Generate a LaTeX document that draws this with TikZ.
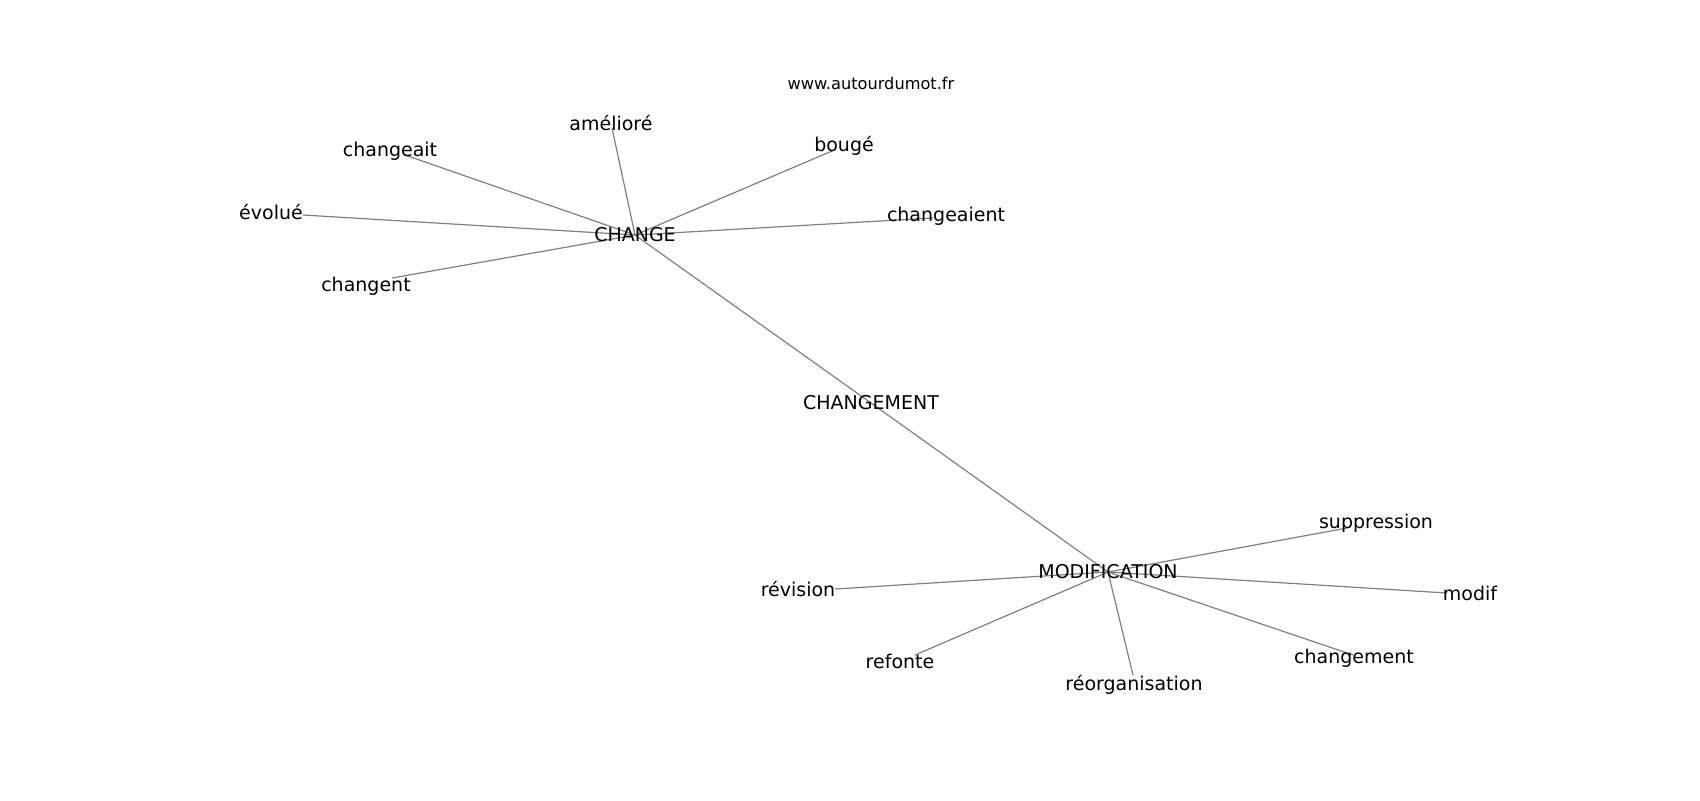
\documentclass[tikz,border=0pt]{standalone}
\usepackage{fontspec}
\setmainfont{DejaVu Sans}
\usetikzlibrary{backgrounds}
\tikzset{
	word/.style={inner sep=0pt, font=\fontsize{9.5}{11}\selectfont},
	hub/.style={word},
	edge/.style={draw=gray, line width=0.6pt},
	% site name on top
	site/.style={inner sep=0pt, font=\fontsize{8.1}{10}\selectfont},
}

\begin{document}
\begin{tikzpicture}[x=0.5pt, y=-0.5pt]
	\useasboundingbox (0,0) rectangle (1700,800);
	
	\node (site) [site] at (871,83) {www.autourdumot.fr};
	
	\node (change) [hub] at (635,235) {CHANGE};
	\node (changement) [hub] at (871,403) {CHANGEMENT};
	\node (modification) [hub] at (1108,572) {MODIFICATION};
	
	% words round CHANGE
	\node (ameliore) [word] at (611,123) {amélioré};
	\node (changeait) [word] at (390,151) {changeait};
	\node (bouge) [word] at (844,146) {bougé};
	\node (evolue) [word] at (271,212) {évolué};
	\node (changeaient) [word] at (946,216) {changeaient};
	\node (changent) [word] at (366,286) {changent};
	
	% words round MODIFICATION
	\node (suppression) [word] at (1376,523) {suppression};
	\node (revision) [word] at (798,589) {révision};
	\node (modif) [word] at (1470,593) {modif};
	\node (refonte) [word] at (900,661) {refonte};
	\node (changementb) [word] at (1354,658) {changement};
	\node (reorg) [word] at (1134,685) {réorganisation};
	
	% where the lines end
	\coordinate (p-ameliore) at (612,128);
	\coordinate (p-changeait) at (405,155);
	\coordinate (p-bouge) at (832,151);
	\coordinate (p-evolue) at (303,215);
	\coordinate (p-changeaient) at (933,218);
	\coordinate (p-changent) at (392,278);
	\coordinate (p-suppression) at (1347,528);
	\coordinate (p-revision) at (835,589);
	\coordinate (p-modif) at (1447,593);
	\coordinate (p-refonte) at (915,655);
	\coordinate (p-changementb) at (1353,655);
	\coordinate (p-reorg) at (1133,675);
	
	\begin{scope}[on background layer]
		\draw[edge] (change.center) -- (changement.center);
		\draw[edge] (changement.center) -- (modification.center);
		
		\foreach \w in {ameliore, changeait, bouge, evolue, changeaient, changent}
			\draw[edge] (change.center) -- (p-\w);
		\foreach \w in {suppression, revision, modif, refonte, changementb, reorg}
			\draw[edge] (modification.center) -- (p-\w);
	\end{scope}
\end{tikzpicture}
\end{document}
